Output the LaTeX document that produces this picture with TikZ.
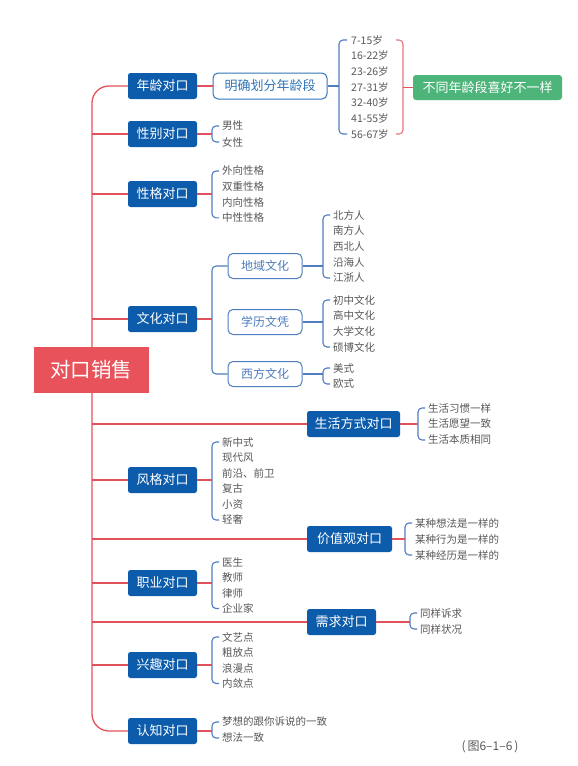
\documentclass[tikz,border=0pt]{standalone}
\usepackage{fontspec}
\setmainfont{Noto Sans CJK SC}
\definecolor{cred}{HTML}{E2525C}
\definecolor{croot}{HTML}{E8525B}
\definecolor{cblue}{HTML}{0C5CAB}
\definecolor{cbrk}{HTML}{4F7DBF}
\definecolor{ctext}{HTML}{585858}
\definecolor{cgreen}{HTML}{4DB47A}
\newcommand\mylist[6]{%
  \foreach \t [count=\i] in {#6}{\node[item] (#1\i) at (#2,{#3+(\i-1)*#4}) {\t};}
  \coordinate (#1x) at ([xshift=-10pt]#11.west);
  \draw[brk] ([xshift=-3pt]#11.west) -- (#1x) -- (#1x |- #1#5.west) -- ([xshift=-3pt]#1#5.west);
}
\begin{document}
\begin{tikzpicture}[x=1pt,y=-1pt,
  mainbox/.style={fill=cblue, text=white, rounded corners=2.5pt, minimum width=69pt, minimum height=26pt, inner sep=0pt, font=\fontsize{13}{13}\selectfont},
  subbox/.style={draw=cbrk, line width=1pt, fill=white, text=cbrk, rounded corners=5pt, minimum width=74pt, minimum height=25pt, inner sep=0pt, font=\fontsize{12}{12}\selectfont},
  item/.style={anchor=west, inner sep=0pt, text=ctext, font=\fontsize{10.5}{10.5}\selectfont},
  trunk/.style={draw=cred, line width=1.3pt},
  brk/.style={draw=cbrk, line width=1.1pt, rounded corners=4pt},
  rbrk/.style={draw=cred!80, line width=1.1pt, rounded corners=4pt}]
\useasboundingbox (0,0) rectangle (578,766);
\fill[white] (0,0) rectangle (578,766);
\coordinate (tx) at (92,0);
% main branches
\node[mainbox] (n1) at (162.5,86) {年龄对口};
\node[mainbox] (n2) at (162.5,134) {性别对口};
\node[mainbox] (n3) at (162.5,194) {性格对口};
\node[mainbox] (n4) at (162.5,319) {文化对口};
\node[mainbox] (n5) at (162.5,480) {风格对口};
\node[mainbox] (n6) at (162.5,583) {职业对口};
\node[mainbox] (n7) at (162.5,665) {兴趣对口};
\node[mainbox] (n8) at (162.5,731) {认知对口};
\node[mainbox, minimum width=93pt] (l1) at (353.5,424) {生活方式对口};
\node[mainbox, minimum width=85pt] (l2) at (349.5,539) {价值观对口};
\node[mainbox] (l3) at (341.5,622) {需求对口};
% trunk
\draw[trunk, rounded corners=17pt] (n1.west) -| (tx |- n8.west) -- (n8.west);
\foreach \n in {n2,n3,n4,n5,n6,n7,l1,l2,l3} \draw[trunk] (tx |- \n.west) -- (\n.west);
\node[fill=croot, text=white, minimum width=115pt, minimum height=46pt, inner sep=0pt, font=\fontsize{20.5}{20.5}\selectfont] (root) at (91,370) {对口销售};
% age
\node[subbox, text=cblue!85, draw=cblue!85, minimum width=114pt, minimum height=26pt, font=\fontsize{13}{13}\selectfont] (a0) at (270,86) {明确划分年龄段};
\draw[trunk] (n1.east) -- (a0.west);
\foreach \t [count=\i] in {7-15岁,16-22岁,23-26岁,27-31岁,32-40岁,41-55岁,56-67岁}{\node[item] (ag\i) at (351,{40+(\i-1)*15.67}) {\t};}
\coordinate (agx) at (339,40);
\draw[brk] ([xshift=-4pt]ag1.west) -- (agx) -- (agx |- ag7.west) -- ([xshift=-4pt]ag7.west);
\draw[brk, rounded corners=0pt] (a0.east) -- (agx |- a0.east);
\node[fill=cgreen, text=white, rounded corners=3pt, minimum width=149pt, minimum height=25pt, inner sep=0pt, font=\fontsize{13}{13}\selectfont] (gr) at (487.5,87.5) {不同年龄段喜好不一样};
\coordinate (agr) at (403,40);
\draw[rbrk] (396,40) -- (agr) -- (agr |- ag7.west) -- (396,134);
\draw[trunk] (agr |- gr.west) -- (gr.west);
% sex
\mylist{sx}{222}{126}{16}{2}{男性,女性}
\draw[trunk] (n2.east) -- (sxx |- n2.east);
% character
\mylist{ch}{222}{171}{15.6}{4}{外向性格,双重性格,内向性格,中性性格}
\draw[trunk] (n3.east) -- (chx |- n3.east);
% culture
\node[subbox] (s1) at (265,266) {地域文化};
\node[subbox] (s2) at (265,322) {学历文凭};
\node[subbox] (s3) at (265,374) {西方文化};
\coordinate (cux) at (212,266);
\draw[brk] (s1.west) -- (cux) -- (cux |- s3.west) -- (s3.west);
\draw[trunk] (n4.east) -- (cux |- n4.east);
\mylist{da}{333}{215}{15.75}{5}{北方人,南方人,西北人,沿海人,江浙人}
\draw[brk, rounded corners=0pt] (s1.east) -- (dax |- s1.east);
\mylist{xl}{333}{300}{15.67}{4}{初中文化,高中文化,大学文化,硕博文化}
\draw[brk, rounded corners=0pt] (s2.east) -- (xlx |- s2.east);
\mylist{xf}{333}{368}{16}{2}{美式,欧式}
\draw[brk, rounded corners=0pt] (s3.east) -- (xfx |- s3.east);
% life
\mylist{sh}{428}{408}{16}{3}{生活习惯一样,生活愿望一致,生活本质相同}
\draw[trunk] (l1.east) -- (shx |- l1.east);
% style
\mylist{fg}{222}{442}{15.6}{6}{新中式,现代风,前沿、前卫,复古,小资,轻奢}
\draw[trunk] (n5.east) -- (fgx |- n5.east);
% values
\mylist{jz}{415}{523}{16}{3}{某种想法是一样的,某种行为是一样的,某种经历是一样的}
\draw[trunk] (l2.east) -- (jzx |- l2.east);
% job
\mylist{zy}{222}{562}{15.5}{4}{医生,教师,律师,企业家}
\draw[trunk] (n6.east) -- (zyx |- n6.east);
% need
\mylist{xq}{420}{613}{16}{2}{同样诉求,同样状况}
\draw[trunk] (l3.east) -- (xqx |- l3.east);
% interest
\mylist{xy}{222}{637}{15.5}{4}{文艺点,粗放点,浪漫点,内敛点}
\draw[trunk] (n7.east) -- (xyx |- n7.east);
% cognition
\mylist{rz}{222}{722}{16}{2}{梦想的跟你诉说的一致,想法一致}
\draw[trunk] (n8.east) -- (rzx |- n8.east);
% caption
\node[text=ctext, inner sep=0pt, font=\fontsize{12}{12}\selectfont] (cap) at (490,747) {(\,图6–1–6\,)};
\end{tikzpicture}
\end{document}
